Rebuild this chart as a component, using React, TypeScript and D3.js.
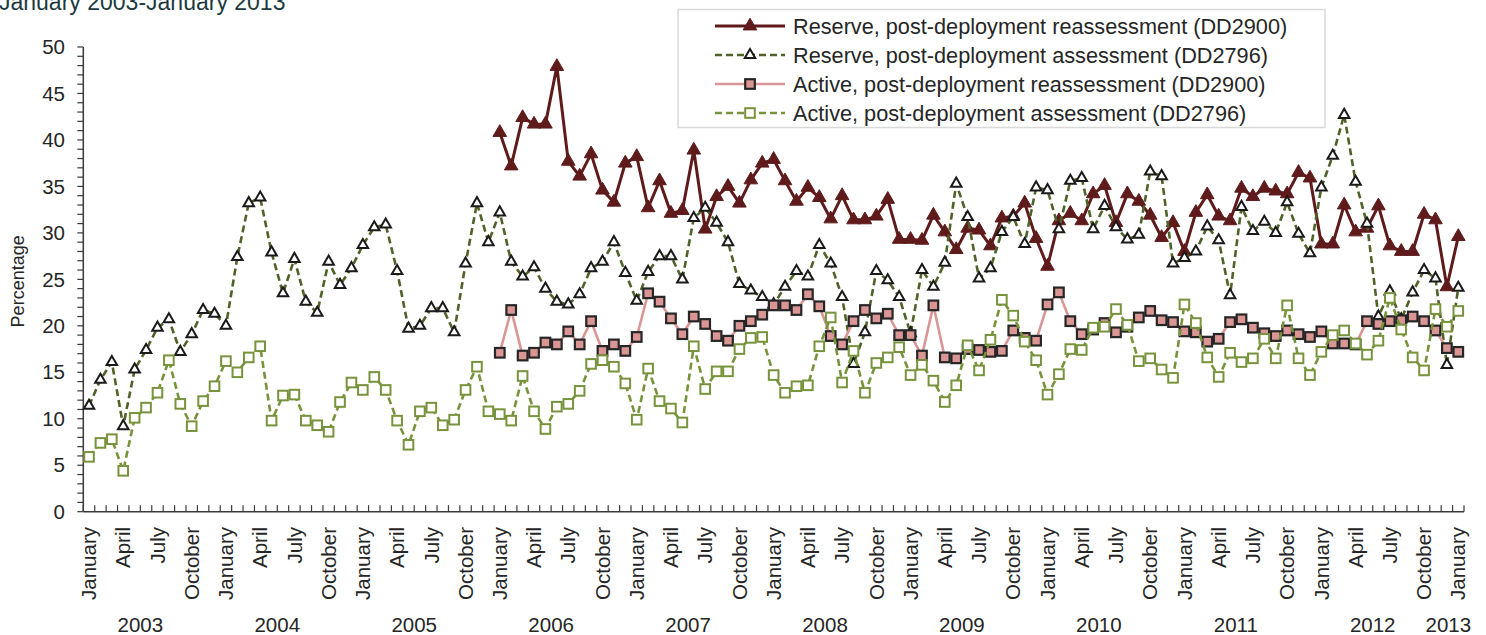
import * as d3 from "d3";

// monthly, January 2003 .. January 2013 (121 months)
const firstYear = 2003;
const monthCount = 121;
const monthNames = [
  "January", "February", "March", "April", "May", "June",
  "July", "August", "September", "October", "November", "December",
];
const yearLabels = ["2003", "2004", "2005", "2006", "2007", "2008", "2009", "2010", "2011", "2012", "2013"];

// reassessment (DD2900) series start January 2006
const reassessStart = 36;

const reserveReassess = [
  40.8, 37.2, 42.4, 41.7, 41.7, 47.9, 37.7, 36.1, 38.5, 34.6,
  33.3, 37.5, 38.2, 32.7, 35.6, 32.1, 32.4, 38.9, 30.4, 33.9, 35.0, 33.2, 35.7, 37.5, 37.9, 35.6,
  33.4, 34.9, 33.8, 31.5, 34.0, 31.4, 31.4, 31.8, 33.6, 29.3, 29.3, 29.2, 31.9, 30.1, 28.2,
  30.5, 30.3, 28.6, 31.6, 31.8, 33.2, 29.4, 26.4, 31.3, 32.1, 31.3, 34.2, 35.1, 31.1, 34.2,
  33.4, 31.9, 29.5, 31.1, 28.0, 32.2, 34.1, 31.8, 31.3, 34.8, 33.9, 34.8, 34.5, 34.2, 36.5, 35.9,
  28.8, 28.8, 33.0, 30.1, 30.5, 32.9, 28.6, 28.0, 28.0, 32.0, 31.4, 24.2, 29.6,
];

const reserveAssess = [
  11.4, 14.2, 16.1, 9.2, 15.3, 17.4, 19.8, 20.7, 17.2, 19.1, 21.7, 21.3, 20.0, 27.4, 33.2, 33.8,
  27.9, 23.5, 27.2, 22.6, 21.4, 26.9, 24.4, 26.2, 28.7, 30.6, 30.9, 25.9, 19.7, 20.0, 21.9,
  21.9, 19.3, 26.7, 33.2, 29.0, 32.2, 26.9, 25.3, 26.3, 24.0, 22.6, 22.3, 23.4, 26.2, 26.9,
  29.0, 25.7, 22.7, 25.8, 27.5, 27.5, 25.0, 31.6, 32.7, 31.1, 29.0, 24.5, 23.8, 23.1, 22.3, 24.2,
  25.9, 25.3, 28.7, 26.7, 23.1, 15.9, 19.3, 25.9, 24.9, 23.1, 19.2, 26.0, 24.2, 26.8, 35.3,
  31.7, 25.1, 26.2, 30.1, 31.7, 28.8, 34.9, 34.6, 30.4, 35.6, 35.9, 30.4, 32.9, 30.6, 29.3,
  29.8, 36.6, 36.1, 26.7, 27.3, 28.0, 30.7, 29.2, 23.3, 32.8, 30.2, 31.2, 30.0, 33.3, 29.9, 27.8,
  34.9, 38.3, 42.7, 35.5, 31.0, 21.0, 23.7, 20.7, 23.6, 26.0, 25.1, 15.8, 24.1,
];

const activeReassess = [
  17.1, 21.7, 16.8, 17.1, 18.2, 18.0, 19.4, 18.0, 20.5, 17.3,
  18.0, 17.3, 18.8, 23.5, 22.6, 20.8, 19.1, 21.0, 20.2, 18.9, 18.4, 20.0, 20.5, 21.2, 22.2, 22.2,
  21.7, 23.4, 22.1, 18.9, 18.0, 20.5, 21.7, 20.8, 21.3, 19.0, 19.0, 16.8, 22.2, 16.6, 16.5,
  17.5, 17.4, 17.2, 17.3, 19.5, 18.7, 18.4, 22.3, 23.6, 20.5, 19.1, 19.6, 20.3, 19.3, 19.9,
  20.9, 21.6, 20.6, 20.4, 19.4, 19.3, 18.3, 18.6, 20.4, 20.7, 19.8, 19.2, 18.9, 19.5, 19.1, 18.8,
  19.4, 18.1, 18.1, 18.0, 20.5, 20.2, 20.5, 20.6, 21.0, 20.5, 19.5, 17.6, 17.2,
];

const activeAssess = [
  5.9, 7.4, 7.8, 4.4, 10.1, 11.2, 12.8, 16.3, 11.6, 9.2, 11.9, 13.5, 16.2, 15.0, 16.6, 17.8,
  9.8, 12.5, 12.6, 9.8, 9.3, 8.6, 11.8, 13.9, 13.1, 14.5, 13.1, 9.8, 7.2, 10.8, 11.2,
  9.3, 9.9, 13.1, 15.6, 10.8, 10.5, 9.8, 14.6, 10.8, 8.9, 11.3, 11.6, 13.0, 15.9, 16.3,
  15.6, 13.8, 9.9, 15.4, 11.9, 11.1, 9.6, 17.8, 13.2, 15.1, 15.1, 17.5, 18.7, 18.8, 14.7, 12.8,
  13.5, 13.6, 17.8, 20.9, 13.9, 17.3, 12.8, 16.0, 16.6, 17.7, 14.7, 15.8, 14.1, 11.8, 13.6,
  17.9, 15.2, 18.5, 22.8, 21.1, 18.3, 16.3, 12.6, 14.8, 17.5, 17.4, 19.8, 19.9, 21.8, 20.1,
  16.2, 16.5, 15.3, 14.4, 22.3, 20.3, 16.6, 14.5, 17.1, 16.1, 16.5, 18.6, 16.5, 22.2, 16.5, 14.7,
  17.2, 19.0, 19.5, 18.1, 16.9, 18.4, 23.0, 19.6, 16.6, 15.2, 21.8, 19.9, 21.6,
];

const FONT = "'Liberation Sans', Arial, sans-serif";

type Series = {
  name: string;
  values: number[];
  start: number;
  color: string;
  width: number;
  dash?: string;
  marker: "triFilled" | "triOpen" | "sqFilled" | "sqOpen";
};

const series: Series[] = [
  { name: "Reserve, post-deployment reassessment (DD2900)", values: reserveReassess, start: reassessStart, color: "#5f1b1b", width: 3, marker: "triFilled" },
  { name: "Reserve, post-deployment assessment (DD2796)", values: reserveAssess, start: 0, color: "#4f6228", width: 2.6, dash: "7 4", marker: "triOpen" },
  { name: "Active, post-deployment reassessment (DD2900)", values: activeReassess, start: reassessStart, color: "#d99694", width: 2.6, marker: "sqFilled" },
  { name: "Active, post-deployment assessment (DD2796)", values: activeAssess, start: 0, color: "#77933c", width: 2.6, dash: "7 4", marker: "sqOpen" },
];

function Marker({ kind, cx, cy }: { kind: Series["marker"]; cx: number; cy: number }) {
  if (kind === "triFilled") {
    const d = d3.symbol(d3.symbolTriangle, 80)()!;
    return <path d={d} transform={`translate(${cx},${cy})`} fill="#5f1b1b" stroke="#5f1b1b" strokeWidth={1} />;
  }
  if (kind === "triOpen") {
    const d = d3.symbol(d3.symbolTriangle, 48)()!;
    return <path d={d} transform={`translate(${cx},${cy})`} fill="#fff" stroke="#1a1a1a" strokeWidth={2} />;
  }
  if (kind === "sqFilled") {
    return <rect x={cx - 4.8} y={cy - 4.8} width={9.6} height={9.6} fill="#d99694" stroke="#262626" strokeWidth={2.2} />;
  }
  return <rect x={cx - 4.8} y={cy - 4.8} width={9.6} height={9.6} fill="#fff" stroke="#77933c" strokeWidth={2} />;
}

export default function App() {
  const W = 1486;
  const H = 635;
  const x = d3.scaleLinear().domain([-0.5, monthCount - 0.5]).range([83.3, 1464]);
  const y = d3.scaleLinear().domain([0, 50]).range([511.7, 47]);

  const axisColor = "#3a3a3a";
  const textColor = "#262626";

  const monthTicks = d3.range(0, monthCount, 3);
  const yMajor = d3.range(0, 51, 5);
  const yMinor = d3.range(0, 51, 1);

  return (
    <svg
      width={W}
      height={H}
      style={{ position: "absolute", top: 0, left: 0, background: "#fff" }}
      fontFamily={FONT}
    >
      <text x={-1} y={10} fontSize={23} fill="#1c3a3e">
        January {firstYear}-January 2013
      </text>

      {/* y axis */}
      <line x1={x.range()[0]} x2={x.range()[0]} y1={y(50)} y2={y(0)} stroke={axisColor} strokeWidth={1.5} />
      {yMinor.map((v) => (
        <line key={`ym${v}`} x1={x.range()[0] - 6} x2={x.range()[0]} y1={y(v)} y2={y(v)} stroke={axisColor} strokeWidth={1.2} />
      ))}
      {yMajor.map((v) => (
        <text key={`yl${v}`} x={65} y={y(v)} dy="0.35em" textAnchor="end" fontSize={20.5} fill={textColor}>
          {v}
        </text>
      ))}
      <text
        transform={`translate(24,${(y(0) + y(50)) / 2 + 2}) rotate(-90)`}
        textAnchor="middle"
        fontSize={18}
        fill={textColor}
      >
        Percentage
      </text>

      {/* x axis */}
      <line x1={x.range()[0]} x2={x.range()[1]} y1={y(0)} y2={y(0)} stroke={axisColor} strokeWidth={1.5} />
      {d3.range(0, monthCount + 1).map((i) => (
        <line key={`xt${i}`} x1={x(i - 0.5)} x2={x(i - 0.5)} y1={y(0) - 6.5} y2={y(0)} stroke={axisColor} strokeWidth={1.2} />
      ))}
      {monthTicks.map((i) => (
        <text
          key={`xl${i}`}
          transform={`translate(${x(i)},527) rotate(-90)`}
          dy="0.35em"
          textAnchor="end"
          fontSize={20.5}
          fill={textColor}
        >
          {monthNames[i % 12]}
        </text>
      ))}
      {yearLabels.map((lab, k) => {
        const first = k * 12;
        const last = Math.min(first + 9, monthCount - 1);
        const cx = (x(first) + x(last)) / 2 - (first === last ? 10 : 0);
        return (
          <text key={lab} x={cx} y={632} textAnchor="middle" fontSize={20.5} fill={textColor}>
            {lab}
          </text>
        );
      })}

      {/* series */}
      {series.map((s) => {
        const line = d3
          .line<number>()
          .x((_, i) => x(s.start + i))
          .y((d) => y(d));
        return (
          <g key={s.name}>
            <path d={line(s.values)!} fill="none" stroke={s.color} strokeWidth={s.width} strokeDasharray={s.dash} strokeLinejoin="round" />
            {s.values.map((v, i) => (
              <Marker key={i} kind={s.marker} cx={x(s.start + i)} cy={y(v)} />
            ))}
          </g>
        );
      })}

      {/* legend */}
      <g>
        <rect x={678} y={9.5} width={647} height={118} fill="#fff" stroke="#d9d9d9" strokeWidth={1.5} />
        {series.map((s, k) => {
          const ly = 26 + k * 29;
          return (
            <g key={`lg${k}`}>
              <line x1={715} x2={785} y1={ly} y2={ly} stroke={s.color} strokeWidth={s.width} strokeDasharray={s.dash} />
              <Marker kind={s.marker} cx={750} cy={ly} />
              <text x={793} y={ly} dy="0.35em" fontSize={21.7} fill={textColor}>
                {s.name}
              </text>
            </g>
          );
        })}
      </g>
    </svg>
  );
}
